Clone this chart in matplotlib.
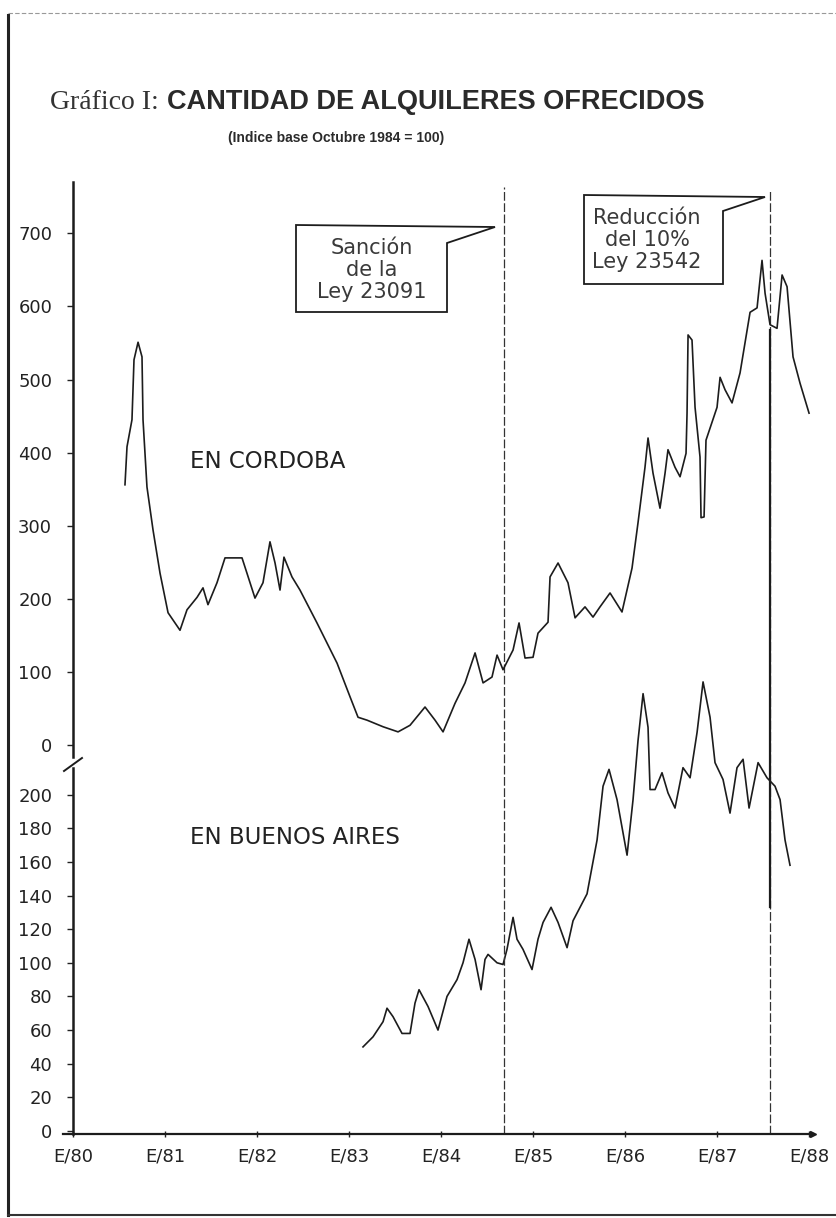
import matplotlib
matplotlib.use('Agg')
import matplotlib.pyplot as plt
from matplotlib.patches import Polygon
from matplotlib.lines import Line2D

plt.rcParams['font.family'] = ['DejaVu Sans']

# --- data (year as decimal, index value) ---
cba_year = [1980.565, 1980.587, 1980.641, 1980.663, 1980.707, 1980.750, 1980.761, 1980.804,
            1980.870, 1980.946, 1981.033, 1981.163, 1981.239, 1981.348, 1981.413, 1981.467,
            1981.565, 1981.652, 1981.837, 1981.891, 1981.978, 1982.065, 1982.141, 1982.196,
            1982.250, 1982.293, 1982.380, 1982.467, 1982.652, 1982.870, 1983.011, 1983.098,
            1983.196, 1983.370, 1983.533, 1983.663, 1983.826, 1983.935, 1984.022, 1984.152,
            1984.261, 1984.370, 1984.457, 1984.554, 1984.609, 1984.674, 1984.783, 1984.848,
            1984.913, 1985.000, 1985.054, 1985.163, 1985.185, 1985.272, 1985.380, 1985.457,
            1985.565, 1985.652, 1985.728, 1985.837, 1985.967, 1986.076, 1986.141, 1986.217,
            1986.250, 1986.304, 1986.380, 1986.435, 1986.467, 1986.543, 1986.598, 1986.663,
            1986.674, 1986.685, 1986.728, 1986.761, 1986.815, 1986.826, 1986.859, 1986.880,
            1987.000, 1987.033, 1987.087, 1987.163, 1987.250, 1987.359, 1987.435, 1987.489,
            1987.522, 1987.576, 1987.652, 1987.707, 1987.761, 1987.826, 1987.902, 1988.000]
cba_val = [356, 408, 445, 527, 551, 531, 445, 353,
           294, 235, 181, 157, 185, 202, 215, 192,
           222, 256, 256, 235, 201, 222, 278, 249,
           212, 257, 230, 212, 167, 112, 66, 38,
           34, 25, 18, 27, 52, 34, 18, 57,
           85, 126, 85, 93, 123, 103, 130, 167,
           119, 120, 153, 168, 230, 249, 222, 174,
           189, 175, 189, 208, 182, 242, 304, 380,
           420, 372, 324, 372, 404, 380, 367, 399,
           454, 561, 554, 462, 394, 311, 312, 417,
           462, 503, 486, 468, 509, 592, 598, 663,
           618, 575, 570, 643, 627, 531, 495, 454]

ba_year = [1983.152, 1983.261, 1983.370, 1983.413, 1983.478, 1983.576, 1983.663, 1983.717,
           1983.761, 1983.859, 1983.967, 1984.065, 1984.174, 1984.239, 1984.304, 1984.370,
           1984.435, 1984.478, 1984.511, 1984.609, 1984.674, 1984.717, 1984.783, 1984.826,
           1984.891, 1984.989, 1985.054, 1985.109, 1985.196, 1985.272, 1985.370, 1985.435,
           1985.587, 1985.696, 1985.761, 1985.826, 1985.913, 1986.022, 1986.087, 1986.141,
           1986.196, 1986.250, 1986.272, 1986.326, 1986.402, 1986.467, 1986.543, 1986.630,
           1986.707, 1986.783, 1986.848, 1986.924, 1986.978, 1987.065, 1987.141, 1987.217,
           1987.283, 1987.348, 1987.446, 1987.543, 1987.630, 1987.685, 1987.739, 1987.793]
ba_val = [50, 56, 65, 73, 68, 58, 58, 76,
          84, 74, 60, 80, 90, 100, 114, 102,
          84, 102, 105, 100, 99, 108, 127, 114,
          108, 96, 114, 124, 133, 124, 109, 125,
          141, 173, 205, 215, 197, 164, 197, 232,
          260, 240, 203, 203, 213, 201, 192, 216,
          210, 237, 267, 246, 219, 209, 189, 216,
          221, 192, 219, 210, 205, 197, 173, 158]

years = [1980, 1981, 1982, 1983, 1984, 1985, 1986, 1987, 1988]
year_labels = ['E/80', 'E/81', 'E/82', 'E/83', 'E/84', 'E/85', 'E/86', 'E/87', 'E/88']
cba_ticks = [0, 100, 200, 300, 400, 500, 600, 700]
ba_ticks = [0, 20, 40, 60, 80, 100, 120, 140, 160, 180, 200]
ley_23091 = 1984.68
ley_23542 = 1987.58

W, H = 837, 1218
ink = '#1c1c1c'


def fx(x):
    return x / W


def fy(y):
    return 1 - y / H


fig = plt.figure(figsize=(W / 100, H / 100), dpi=100)
fig.patch.set_facecolor('white')

rect = [fx(73), fy(1134), 740 / W, 952 / H]
ax_ba = fig.add_axes(rect)
ax_cba = fig.add_axes(rect, sharex=ax_ba)
ax_cba.patch.set_alpha(0)

ax_ba.set_xlim(1980, 1988.043)
ax_ba.set_ylim(-1.78, 564.2)
ax_cba.set_ylim(-532.1, 770.2)

ax_ba.plot(ba_year, ba_val, color=ink, lw=1.2, clip_on=False)
ax_cba.plot(cba_year, cba_val, color=ink, lw=1.2)

# vertical marker lines
ax_ba.axvline(ley_23091, ymin=0, ymax=0.995, color='#333333', lw=0.9, ls=(0, (7, 2)))
ax_ba.axvline(ley_23542, ymin=0, ymax=0.993, color='#333333', lw=0.9, ls=(0, (7, 2)))
ax_ba.axvline(ley_23542, ymin=0.238, ymax=0.845, color=ink, lw=1.6)

# axes styling
for a in (ax_ba, ax_cba):
    a.spines['top'].set_visible(False)
    a.spines['right'].set_visible(False)
    a.spines['left'].set_linewidth(1.8)
    a.spines['left'].set_color(ink)
    a.tick_params(axis='y', direction='out', length=4, width=1, pad=11,
                  labelsize=13, colors='#222222')
ax_cba.spines['bottom'].set_visible(False)
ax_cba.spines['left'].set_bounds(-16.4, 770.2)
ax_ba.spines['left'].set_bounds(-1.78, 215.8)
ax_ba.spines['bottom'].set_bounds(1979.89, 1988.043)
ax_ba.spines['bottom'].set_linewidth(1.6)
ax_ba.spines['bottom'].set_color(ink)
ax_ba.plot([1], [0], marker='>', ms=5, color=ink, transform=ax_ba.transAxes, clip_on=False)

ax_ba.set_yticks(ba_ticks)
ax_cba.set_yticks(cba_ticks)
ax_ba.set_xticks(years)
ax_ba.set_xticklabels(year_labels)
ax_ba.tick_params(axis='x', direction='inout', length=4, width=1, pad=8,
                  labelsize=13, colors='#222222')
ax_cba.tick_params(axis='x', bottom=False, labelbottom=False)

# axis break mark
fig.add_artist(Line2D([fx(64), fx(82)], [fy(771), fy(758)], color=ink, lw=1.4))

# series labels
fig.text(fx(190), fy(462), 'EN CORDOBA', fontsize=16.5, color='#222222', va='center')
fig.text(fx(190), fy(838), 'EN BUENOS AIRES', fontsize=16.5, color='#222222', va='center')

# callout boxes
box1 = Polygon([(fx(296), fy(225)), (fx(495), fy(227)), (fx(447), fy(243)),
                (fx(447), fy(312)), (fx(296), fy(312))], closed=True,
               transform=fig.transFigure, facecolor='white', edgecolor=ink, lw=1.3)
box2 = Polygon([(fx(584), fy(195)), (fx(765), fy(197)), (fx(723), fy(211)),
                (fx(723), fy(284)), (fx(584), fy(284))], closed=True,
               transform=fig.transFigure, facecolor='white', edgecolor=ink, lw=1.3)
fig.add_artist(box1)
fig.add_artist(box2)
fig.text(fx(372), fy(270), 'Sanción\nde la\nLey 23091', ha='center', va='center',
         fontsize=15, color='#3a3a3a', linespacing=1.15)
fig.text(fx(647), fy(240), 'Reducción\ndel 10%\nLey 23542', ha='center', va='center',
         fontsize=15, color='#3a3a3a', linespacing=1.1)

# titles
fig.text(fx(50), fy(109), 'Gráfico I:', fontsize=20, color='#333333',
         family=['Liberation Serif', 'DejaVu Serif'], va='baseline')
fig.text(fx(167), fy(109), 'CANTIDAD DE ALQUILERES OFRECIDOS', fontsize=19.5,
         fontweight='bold', color='#2a2a2a', family=['Liberation Sans', 'DejaVu Sans'],
         va='baseline')
fig.text(fx(336), fy(142), '(Indice base Octubre 1984 = 100)', fontsize=10,
         fontweight='bold', color='#2a2a2a', family=['Liberation Sans', 'DejaVu Sans'],
         ha='center', va='baseline')

# page frame of the scan
fig.add_artist(Line2D([fx(8), fx(8)], [fy(15), fy(1215)], color='#222222', lw=2.2))
fig.add_artist(Line2D([fx(8), fx(837)], [fy(1215), fy(1215)], color='#333333', lw=1.5))
fig.add_artist(Line2D([fx(8), fx(837)], [fy(13), fy(13)], color='#999999', lw=0.8,
                      ls=(0, (4, 2))))

fig.savefig('out.png', dpi=100)
